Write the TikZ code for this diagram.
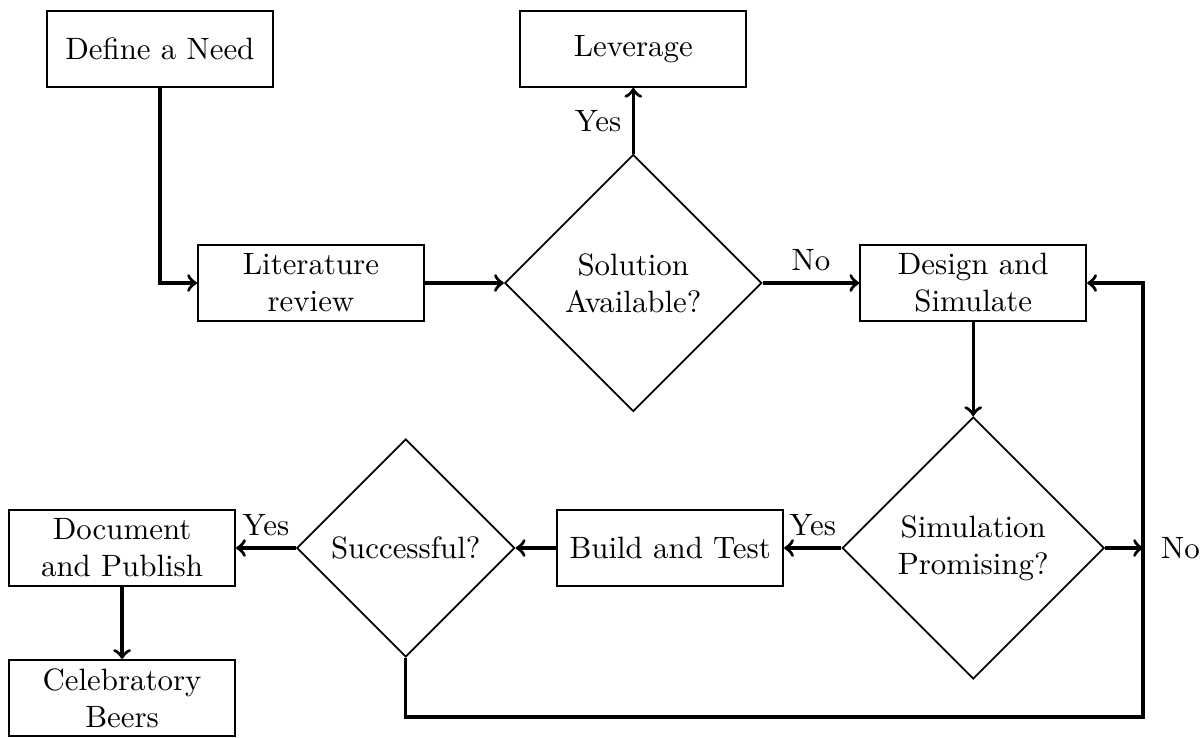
\documentclass[tikz,border=0pt]{standalone}
\usepackage{tikz}
\usetikzlibrary{shapes.geometric}

\begin{document}
\begin{tikzpicture}[
  block/.style={draw,semithick,rectangle,text width=2.34cm,align=center,minimum height=0.865cm,inner ysep=2.5pt},
  decision/.style={draw,semithick,diamond,aspect=1,align=center,inner sep=0pt},
  flow/.style={line width=1.1pt,->},
]
\useasboundingbox (0,0) rectangle (13.685,-8.402);
% top row
\node[block] (need) at (1.82,-0.558) {Define a Need};
\node[block] (leverage) at (7.21,-0.558) {Leverage};
% middle row
\node[block] (lit) at (3.54,-3.222) {Literature\\review};
\node[decision,minimum size=2.926cm] (avail) at (7.21,-3.222) {Solution\\Available?};
\node[block] (design) at (11.08,-3.222) {Design and\\Simulate};
% bottom row
\node[decision,minimum size=2.983cm] (promising) at (11.08,-6.239) {Simulation\\Promising?};
\node[block] (build) at (7.63,-6.239) {Build and Test};
\node[decision,minimum size=2.482cm] (success) at (4.62,-6.239) {Successful?};
\node[block] (publish) at (1.39,-6.239) {Document\\and Publish};
\node[block] (beers) at (1.39,-7.945) {Celebratory\\Beers};
\coordinate (corner) at (13.013,-8.163);
\coordinate (noend) at (corner |- promising.east);

\draw[flow] (need.south) |- (lit.west);
\draw[flow] (lit.east) -- (avail.west);
\draw[flow] (avail.north) -- (leverage.south) node[midway,left] {Yes};
\draw[flow] (avail.east) -- (design.west) node[midway,above] {No};
\draw[flow] (design.south) -- (promising.north);
\draw[flow] (promising.west) -- (build.east) node[midway,above] {Yes};
\draw[flow] (promising.east) -- (noend) node[right,xshift=2pt] {No};
\draw[flow] (build.west) -- (success.east);
\draw[flow] (success.west) -- (publish.east) node[midway,above] {Yes};
\draw[flow] (publish.south) -- (beers.north);
\draw[flow] (success.south) |- (corner) |- (design.east);
\end{tikzpicture}
\end{document}
